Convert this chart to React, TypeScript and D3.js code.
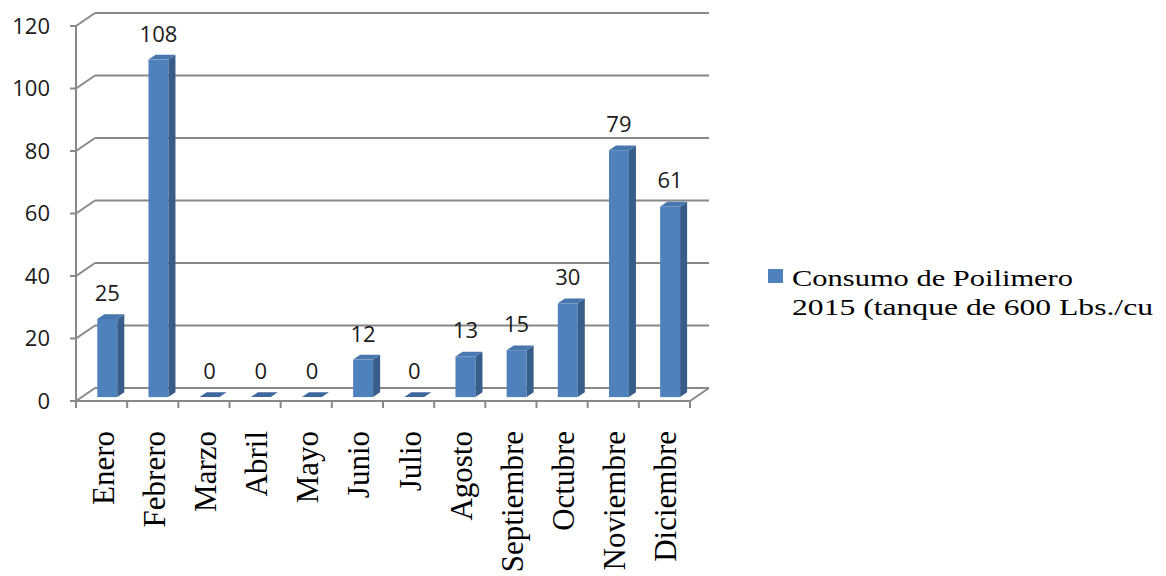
import * as d3 from 'd3'

const categories = [
  'Enero',
  'Febrero',
  'Marzo',
  'Abril',
  'Mayo',
  'Junio',
  'Julio',
  'Agosto',
  'Septiembre',
  'Octubre',
  'Noviembre',
  'Diciembre',
]
const values = [25, 108, 0, 0, 0, 12, 0, 13, 15, 30, 79, 61]
const yTicks = [0, 20, 40, 60, 80, 100, 120]
const legendLines = ['Consumo de Poilimero', '2015 (tanque de 600 Lbs./cu']

const width = 1166
const height = 576

// 3D box layout
const X0 = 76
const X1 = 690
const Y0 = 401
const Y1 = 26
const DX = 19
const DY = -13
const F0 = 0.3 // bar front depth
const F1 = 0.67 // bar back depth

const gridColor = '#888888'
const frontColor = '#4F81BD'
const sideColor = '#385D8A'
const topColor = '#4877B0'
const serif = "'Liberation Serif', 'Times New Roman', serif"
const sans = "'Open Sans', sans-serif"

export default function App() {
  const x = d3.scaleBand<string>().domain(categories).range([X0, X1])
  const y = d3.scaleLinear().domain([0, 120]).range([Y0, Y1])
  const bw = x.bandwidth()
  const barW = bw * 0.39
  const ddx = (F1 - F0) * DX
  const ddy = (F1 - F0) * DY

  const poly = (pts: [number, number][]) => pts.map((p) => p.join(',')).join(' ')

  return (
    <svg
      width={width}
      height={height}
      style={{ position: 'absolute', left: 0, top: 0, background: '#fff' }}
    >
      {/* back wall gridlines + left wall diagonals */}
      {yTicks.map((t) => (
        <g key={t}>
          <line
            x1={X0 + DX}
            x2={X1 + DX}
            y1={y(t) + DY}
            y2={y(t) + DY}
            stroke={gridColor}
            strokeWidth={2}
          />
          <line x1={X0} x2={X0 + DX} y1={y(t)} y2={y(t) + DY} stroke={gridColor} strokeWidth={2} />
          <line x1={X0 - 6} x2={X0} y1={y(t)} y2={y(t)} stroke={gridColor} strokeWidth={2} />
          <text x={50} y={y(t)} dy="0.36em" textAnchor="end" fontFamily={sans} fontSize={22} fill="#1a1a1a">
            {t}
          </text>
        </g>
      ))}

      {/* floor */}
      <line x1={X0} x2={X1} y1={Y0} y2={Y0} stroke={gridColor} strokeWidth={2} />
      <line x1={X1} x2={X1 + DX} y1={Y0} y2={Y0 + DY} stroke={gridColor} strokeWidth={2} />
      <line x1={X0} x2={X0} y1={Y1} y2={Y0} stroke={gridColor} strokeWidth={2} />
      {[...categories.map((c) => x(c) as number), X1].map((px, i) => (
        <line key={i} x1={px} x2={px} y1={Y0} y2={Y0 + 7} stroke={gridColor} strokeWidth={2} />
      ))}

      {/* bars */}
      {categories.map((c, i) => {
        const v = values[i]
        const xl = (x(c) as number) + (bw - barW) / 2 + F0 * DX
        const xr = xl + barW
        const yTop = y(v) + F0 * DY
        const yBot = y(0) + F0 * DY
        return (
          <g key={c}>
            {v > 0 && (
              <>
                <rect x={xl} y={yTop} width={barW} height={yBot - yTop} fill={frontColor} />
                <polygon
                  points={poly([
                    [xr, yTop],
                    [xr + ddx, yTop + ddy],
                    [xr + ddx, yBot + ddy],
                    [xr, yBot],
                  ])}
                  fill={sideColor}
                />
              </>
            )}
            <polygon
              points={poly([
                [xl, yTop],
                [xl + ddx, yTop + ddy],
                [xr + ddx, yTop + ddy],
                [xr, yTop],
              ])}
              fill={v > 0 ? topColor : '#3D679C'}
            />
            <text x={xl + barW / 2} y={yTop - 18} textAnchor="middle" fontFamily={sans} fontSize={22} fill="#1a1a1a">
              {v}
            </text>
          </g>
        )
      })}

      {/* category labels */}
      {categories.map((c) => {
        const cx = (x(c) as number) + bw / 2 + 12
        return (
          <text
            key={c}
            transform={`translate(${cx},431) rotate(-90)`}
            textAnchor="end"
            fontFamily={serif}
            fontSize={31}
            fill="#000"
          >
            {c}
          </text>
        )
      })}

      {/* legend */}
      <rect x={768} y={269} width={15} height={14} fill={frontColor} />
      <text x={792} y={286} fontFamily={serif} fontSize={24} textLength={281} lengthAdjust="spacingAndGlyphs" fill="#000">
        {legendLines[0]}
      </text>
      <text x={792} y={315} fontFamily={serif} fontSize={24} textLength={361} lengthAdjust="spacingAndGlyphs" fill="#000">
        {legendLines[1]}
      </text>
    </svg>
  )
}
